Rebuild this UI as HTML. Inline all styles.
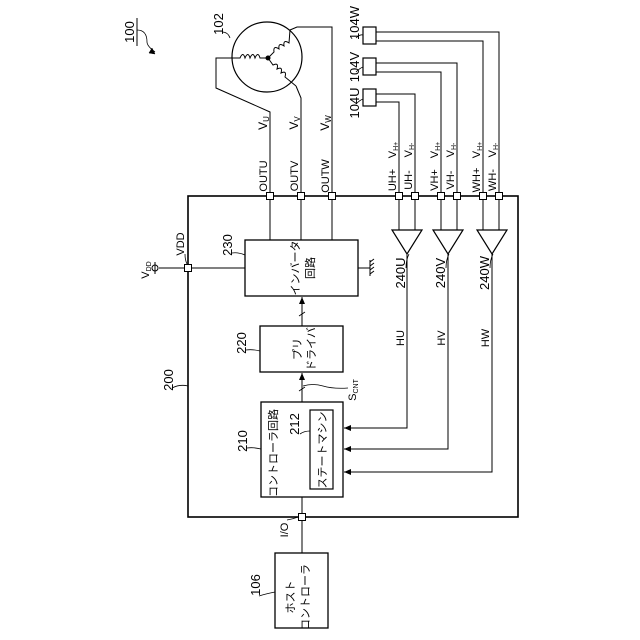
<!DOCTYPE html>
<html><head><meta charset="utf-8"><style>html,body{margin:0;padding:0;background:#fff}svg{display:block}</style></head><body>
<svg width="640" height="640" viewBox="0 0 640 640" xmlns="http://www.w3.org/2000/svg" font-family="'Liberation Sans','Noto Sans CJK JP',sans-serif" fill="none" stroke="#000">
<defs><marker id="ar" markerWidth="8" markerHeight="8" refX="7" refY="4" orient="auto" markerUnits="userSpaceOnUse"><path d="M0,1 L7,4 L0,7 Z" fill="#000" stroke="none"/></marker></defs>
<rect x="188" y="196" width="330" height="321" stroke-width="1.6"/>
<circle cx="267" cy="57" r="35" stroke-width="1.2"/>
<circle cx="268" cy="58" r="2" fill="#000"/>
<path d="M268,58 L260,58 q-2,-7 -5,0 q-2,-7 -5,0 q-2,-7 -5,0 q-2,-7 -5,0 L233,58" stroke-width="1"/>
<path d="M268,58 L274,52 q-1,-7 5,-3 q-1,-7 5,-3 q-1,-7 5,-3 L290,30" stroke-width="1"/>
<path d="M268,58 L273,65 q6,-3 4,4 q6,-3 4,4 q6,-3 4,4 L296,86" stroke-width="1"/>
<path d="M233,58 L216,58 L216,88 L270,112 L270,196" stroke-width="1"/>
<path d="M296,86 L301,98 L301,196" stroke-width="1"/>
<path d="M290,30 L297,27 L332,27 L332,196" stroke-width="1"/>
<g stroke-width="1.2">
<rect x="363" y="27" width="13" height="17"/><rect x="363" y="58" width="13" height="17"/><rect x="363" y="89" width="13" height="17"/>
</g>
<g stroke-width="1">
<path d="M376,32 H499 V196 M376,41 H483 V196 M376,63 H457 V196 M376,72 H441 V196 M376,94 H415 V196 M376,102 H399 V196"/>
</g>
<g fill="#fff" stroke-width="1">
<rect x="266.5" y="192.5" width="7" height="7"/><rect x="297.5" y="192.5" width="7" height="7"/><rect x="328.5" y="192.5" width="7" height="7"/>
<rect x="395.5" y="192.5" width="7" height="7"/><rect x="411.5" y="192.5" width="7" height="7"/><rect x="437.5" y="192.5" width="7" height="7"/><rect x="453.5" y="192.5" width="7" height="7"/><rect x="479.5" y="192.5" width="7" height="7"/><rect x="495.5" y="192.5" width="7" height="7"/>
</g>
<path d="M270,199 V240 M301,199 V240 M332,199 V240" stroke-width="1"/>
<rect x="245" y="240" width="113" height="56" stroke-width="1.3"/>
<path d="M159,268 H245" stroke-width="1"/>
<circle cx="155" cy="268" r="3" stroke-width="1" fill="#fff"/>
<path d="M155,262 V274" stroke-width="1"/>
<rect x="184.5" y="264.5" width="7" height="7" fill="#fff" stroke-width="1"/>
<path d="M358,268 H370 M370,260 V276 M370,262 l4,-3 M370,266 l4,-3 M370,270 l4,-3 M370,274 l4,-3" stroke-width="1"/>
<rect x="260" y="326" width="83" height="46" stroke-width="1.3"/>
<path d="M302,326 V297" stroke-width="1" marker-end="url(#ar)"/>
<path d="M302,402 V373" stroke-width="1" marker-end="url(#ar)"/>
<path d="M299,316 l6,-4 M299,391 l6,-4" stroke-width="0.8"/>
<path d="M303,386 q10,-3 20,0 t25,2" stroke-width="0.8"/>
<rect x="261" y="402" width="82" height="95" stroke-width="1.3"/>
<rect x="310" y="410" width="23" height="79" stroke-width="1.2"/>
<g stroke-width="1.2" fill="#fff">
<path d="M392,230 H422 L407,254 Z"/><path d="M433,230 H463 L448,254 Z"/><path d="M477,230 H507 L492,254 Z"/>
</g>
<path d="M399,199 V230 M415,199 V230 M441,199 V230 M457,199 V230 M483,199 V230 M499,199 V230" stroke-width="1"/>
<path d="M407,254 V428 H344" stroke-width="1" marker-end="url(#ar)"/>
<path d="M448,254 V449 H344" stroke-width="1" marker-end="url(#ar)"/>
<path d="M492,254 V472 H344" stroke-width="1" marker-end="url(#ar)"/>
<path d="M302,497 V553" stroke-width="1"/>
<rect x="298.5" y="513.5" width="7" height="7" fill="#fff" stroke-width="1"/>
<rect x="275" y="553" width="53" height="75" stroke-width="1.3"/>
<g stroke-width="0.8">
<path d="M222,32 q6,0 8,6"/><path d="M356,38 q4,-4 7,-3"/><path d="M356,72 q4,-4 7,-5"/><path d="M356,104 q4,-4 7,-5"/>
<path d="M232,253 q6,-1 13,2"/><path d="M246,350 q6,-1 14,1"/><path d="M247,448 q6,-1 14,1"/><path d="M300,434 q4,-3 10,-3"/>
<path d="M172,388 q8,-4 16,-2"/><path d="M185,254 q0,6 2,10"/><path d="M406,268 q0,-8 3,-14"/><path d="M446,268 q0,-8 3,-14"/><path d="M490,268 q0,-8 3,-14"/>
<path d="M287,520 q6,-1 11,-3"/><path d="M259,596 q6,-2 16,-4"/>
<path d="M137,30 q10,0 10,12 q0,4 8,10" />
</g>
<path d="M137,18 V46" stroke-width="1"/>
<path d="M149,53 l6,1 l-3,-6 Z" fill="#000" stroke-width="0.5"/>
<g fill="#000" stroke="none" font-size="13" text-anchor="middle">
<text transform="translate(134,32) rotate(-90)">100</text>
<text transform="translate(223,24) rotate(-90)">102</text>
<text transform="translate(359,23) rotate(-90)">104W</text>
<text transform="translate(359,67) rotate(-90)">104V</text>
<text transform="translate(359,103) rotate(-90)">104U</text>
<g font-size="12">
<text transform="translate(267,123) rotate(-90)">V<tspan font-size="8" dy="2">U</tspan></text>
<text transform="translate(298,123) rotate(-90)">V<tspan font-size="8" dy="2">V</tspan></text>
<text transform="translate(329,123) rotate(-90)">V<tspan font-size="8" dy="2">W</tspan></text>
</g>
<g font-size="11">
<text transform="translate(267,176) rotate(-90)">OUTU</text>
<text transform="translate(298,176) rotate(-90)">OUTV</text>
<text transform="translate(329,176) rotate(-90)">OUTW</text>
<text transform="translate(396,180) rotate(-90)">UH+</text>
<text transform="translate(412,180) rotate(-90)">UH-</text>
<text transform="translate(438,180) rotate(-90)">VH+</text>
<text transform="translate(454,180) rotate(-90)">VH-</text>
<text transform="translate(480,180) rotate(-90)">WH+</text>
<text transform="translate(496,180) rotate(-90)">WH-</text>
<text transform="translate(396,150) rotate(-90)">V<tspan font-size="7" dy="2">H+</tspan></text>
<text transform="translate(412,150) rotate(-90)">V<tspan font-size="7" dy="2">H-</tspan></text>
<text transform="translate(438,150) rotate(-90)">V<tspan font-size="7" dy="2">H+</tspan></text>
<text transform="translate(454,150) rotate(-90)">V<tspan font-size="7" dy="2">H-</tspan></text>
<text transform="translate(480,150) rotate(-90)">V<tspan font-size="7" dy="2">H+</tspan></text>
<text transform="translate(496,150) rotate(-90)">V<tspan font-size="7" dy="2">H-</tspan></text>
<text transform="translate(184,244) rotate(-90)">VDD</text>
<text transform="translate(149,270) rotate(-90)">V<tspan font-size="7" dy="2">DD</tspan></text>
<text transform="translate(404,338) rotate(-90)">HU</text>
<text transform="translate(445,338) rotate(-90)">HV</text>
<text transform="translate(489,338) rotate(-90)">HW</text>
<text transform="translate(356,390) rotate(-90)">S<tspan font-size="7" dy="2">CNT</tspan></text>
<text transform="translate(288,530) rotate(-90)">I/O</text>
</g>
<text transform="translate(232,245) rotate(-90)">230</text>
<text transform="translate(246,343) rotate(-90)">220</text>
<text transform="translate(247,441) rotate(-90)">210</text>
<text transform="translate(299,424) rotate(-90)">212</text>
<text transform="translate(173,380) rotate(-90)">200</text>
<text transform="translate(405,273) rotate(-90)">240U</text>
<text transform="translate(445,273) rotate(-90)">240V</text>
<text transform="translate(489,273) rotate(-90)">240W</text>
<text transform="translate(260,585) rotate(-90)">106</text>
<g font-size="11">
<text transform="translate(299,268) rotate(-90)">インバータ</text>
<text transform="translate(314,268) rotate(-90)">回路</text>
<text transform="translate(301,349) rotate(-90)">プリ</text>
<text transform="translate(315,349) rotate(-90)">ドライバ</text>
<text transform="translate(277,453) rotate(-90)">コントローラ回路</text>
<text transform="translate(326,450) rotate(-90)">ステートマシン</text>
<text transform="translate(294,597) rotate(-90)">ホスト</text>
<text transform="translate(309,597) rotate(-90)">コントローラ</text>
</g>
</g>
</svg>
</body></html>
